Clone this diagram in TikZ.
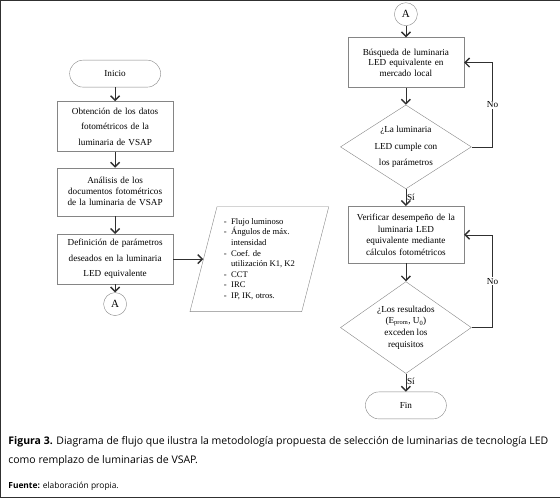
\documentclass[tikz,border=0pt]{standalone}
\usepackage{fontspec}
\setmainfont{Liberation Serif}
\newfontfamily\capfont{Open Sans}
\usetikzlibrary{positioning,shapes.geometric,arrows.meta}
\definecolor{borde}{HTML}{858585}
\definecolor{flecha}{HTML}{303030}
\tikzset{
		basic/.style  = {draw=borde, thin, align=center, font=\fontsize{9.2}{11}\selectfont},
		terminal/.style = {basic, rectangle, rounded corners=13.5pt, minimum width=91pt, minimum height=27pt},
		proceso/.style = {basic, rectangle, text width=108pt, minimum height=50pt, inner xsep=4pt, inner ysep=1pt},
		decision/.style = {basic, diamond, shape aspect=1.56, minimum width=131pt, minimum height=84pt, inner sep=0pt},
		datos/.style = {basic, trapezium, trapezium left angle=75, trapezium right angle=105,
			trapezium stretches=true, minimum width=139pt, minimum height=105pt, align=left, inner sep=0pt,
			font=\fontsize{8.6}{10.6}\selectfont},
		conector/.style = {basic, circle, minimum size=23pt, inner sep=0pt, font=\fontsize{11}{11}\selectfont},
		rotulo/.style = {inner sep=1pt, font=\fontsize{9.2}{9.2}\selectfont}
	}

\begin{document}
\begin{tikzpicture}[x=1pt, y=-1pt,
		every path/.style={draw=flecha, thin},
		>={Straight Barb[length=4.5pt,width=9pt,line width=1.4pt]}]
		\useasboundingbox (0,0) rectangle (560,497);
		% left column
		\node[terminal] (inicio) at (115,73.5) {Inicio};
		\node[proceso, below=14pt of inicio, font=\fontsize{9.2}{15.5}\selectfont] (obt) {Obtención de los datos\\ fotométricos de la\\ luminaria de VSAP};
		\node[proceso, below=16pt of obt, minimum height=48pt] (anal) {Análisis de los\\ documentos fotométricos\\ de la luminaria de VSAP};
		\node[proceso, below=18pt of anal, font=\fontsize{9.2}{15.5}\selectfont] (def) {Definición de parámetros\\ deseados en la luminaria\\ LED equivalente};
		\node[conector, below=8pt of def] (conA) {A};
		\node[datos, right=30pt of def] (param) {%
			\begin{tabular}{@{}l@{\hspace{4.5pt}}l@{}}
				- & Flujo luminoso\\
				- & Ángulos de máx.\\
				  & intensidad\\
				- & Coef. de\\
				  & utilización K1, K2\\
				- & CCT\\
				- & IRC\\
				- & IP, IK, otros.
			\end{tabular}};
		% right column
		\node[conector] (conB) at (406,14) {A};
		\node[proceso, below=11.5pt of conB, font=\fontsize{9.2}{10.6}\selectfont] (busq) {Búsqueda de luminaria\\ LED equivalente en\\ mercado local};
		\node[decision, below=17pt of busq, font=\fontsize{9.2}{16.5}\selectfont] (dec1) {¿La luminaria\\ LED cumple con\\ los parámetros};
		\node[proceso, below=17pt of dec1, minimum height=57pt, font=\fontsize{9.2}{11.4}\selectfont] (verif) {Verificar desempeño de la\\ luminaria LED\\ equivalente mediante\\ cálculos fotométricos};
		\node[decision, below=18pt of verif, minimum height=92pt, font=\fontsize{9.2}{11.7}\selectfont] (dec2) {¿Los resultados\\ (E\textsubscript{prom}, U\textsubscript{0})\\ exceden los\\ requisitos};
		\node[terminal, below=18pt of dec2, minimum width=81pt] (fin) {Fin};
		% connectors
		\foreach \a/\b in {inicio/obt, obt/anal, anal/def, def/conA, conB/busq, busq/dec1, verif/dec2}
		\draw[->] (\a) -- (\b);
		\draw[->] (def.east) -- (param.west);
		\draw[->] (dec1) -- node[right, rotulo] {Sí} (verif);
		\draw[->] (dec2) -- node[right, rotulo, pos=0.45] {Sí} (fin);
		\draw[->] (dec1.east) -- ++(21,0) |- node[pos=0.25, fill=white, rotulo] {No} (busq.east);
		\draw[->] (dec2.east) -- ++(21,0) |- node[pos=0.25, fill=white, rotulo] {No} (verif.east);
		% caption
		\node[anchor=north west, align=left, inner sep=0pt, font=\capfont\fontsize{10.5}{19.5}\selectfont] (pie) at (8,436)
		{\textbf{Figura 3.} Diagrama de flujo que ilustra la metodología propuesta de selección de luminarias de tecnología LED\\ como remplazo de luminarias de VSAP.};
		\node[anchor=north west, inner sep=0pt, font=\capfont\fontsize{8.4}{8.4}\selectfont] (fuente) at (8,482) {\textbf{Fuente:} elaboración propia.};
	\end{tikzpicture}
\end{document}
